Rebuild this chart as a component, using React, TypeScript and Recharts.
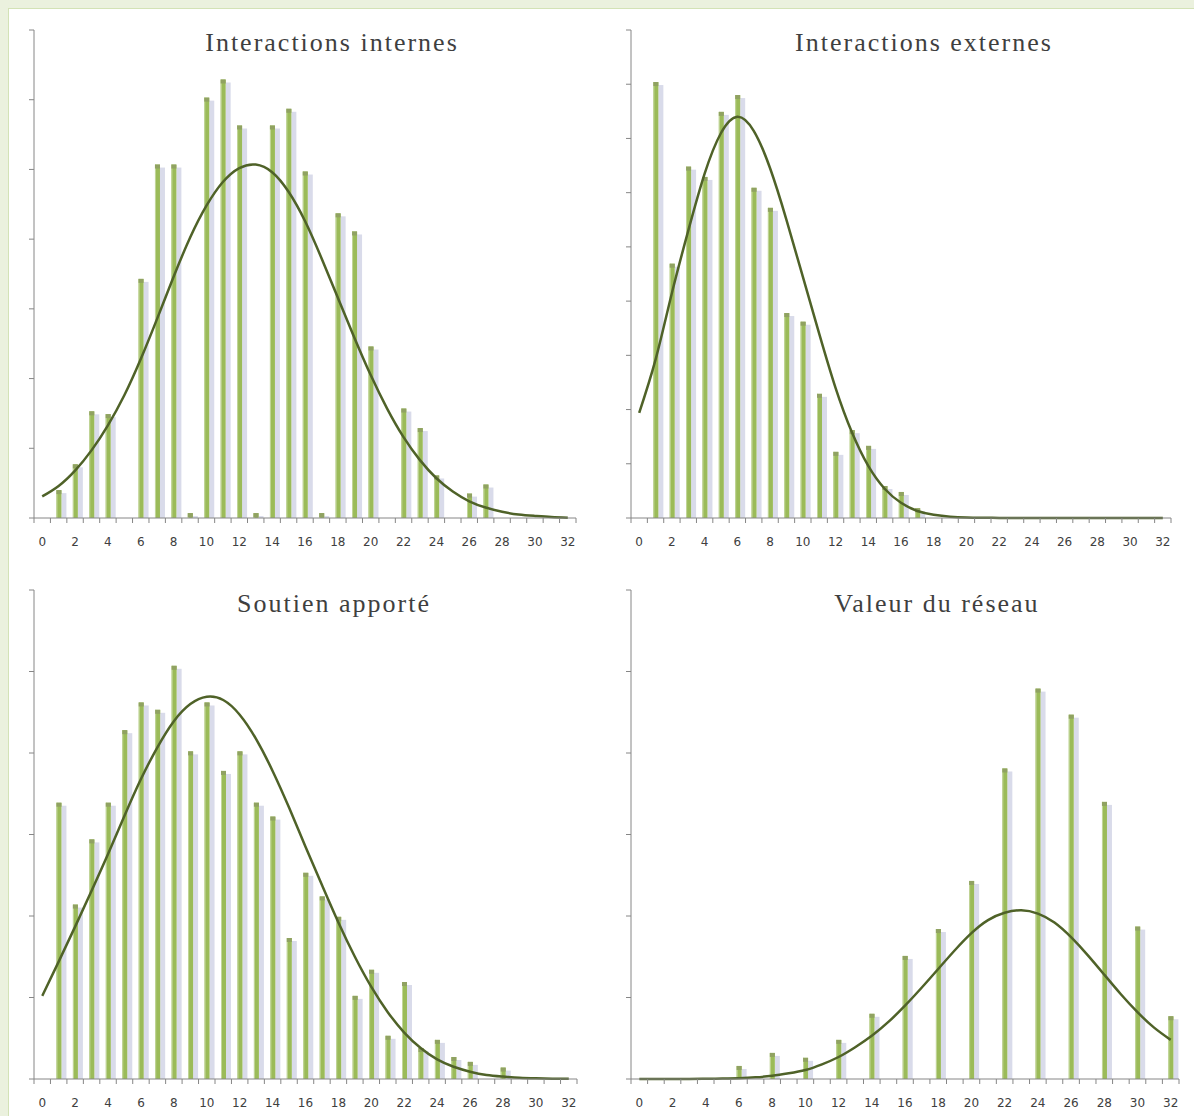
import React from 'react';
import { ComposedChart, Bar, Line, XAxis, YAxis } from 'recharts';

// x categories (score 0..32)
const categories = [0, 1, 2, 3, 4, 5, 6, 7, 8, 9, 10, 11, 12, 13, 14, 15, 16, 17, 18, 19, 20, 21, 22, 23, 24, 25, 26, 27, 28, 29, 30, 31, 32];

// Interactions internes
const internesBars = [0, 4, 7.7, 15.3, 14.9, 0, 34.3, 50.7, 50.7, 0.7, 60.3, 62.9, 56.3, 0.7, 56.3, 58.7, 49.7, 0.7, 43.7, 41.1, 24.6, 0, 15.7, 12.9, 6.1, 0, 3.5, 4.8, 0, 0, 0, 0, 0];
const internesCurve = [3.1, 4.6, 6.8, 9.7, 13.3, 17.6, 22.8, 28.6, 34.6, 40.2, 44.8, 48.2, 50.2, 50.7, 49.6, 46.8, 42.6, 37.3, 31.6, 25.9, 20.5, 15.7, 11.6, 8.3, 5.7, 3.8, 2.4, 1.5, 0.9, 0.5, 0.3, 0.15, 0.05];

// Interactions externes
const externesBars = [0, 80.4, 46.9, 64.8, 62.9, 74.9, 78, 60.9, 57.2, 37.8, 36.2, 22.9, 12.2, 16.2, 13.3, 5.9, 4.8, 1.8, 0, 0, 0, 0, 0, 0, 0, 0, 0, 0, 0, 0, 0, 0, 0];
const externesCurve = [19.4, 29.2, 41.5, 53, 63.5, 71, 74, 71.4, 64.5, 55, 44.5, 34, 24, 15.8, 9.6, 5.4, 2.8, 1.3, 0.6, 0.25, 0.1, 0.05, 0.02, 0.01, 0, 0, 0, 0, 0, 0, 0, 0, 0];

// Soutien apporté
const soutienBars = [0, 33.9, 21.4, 29.4, 33.9, 42.8, 46.2, 45.3, 50.7, 40.2, 46.2, 37.8, 40.2, 33.9, 32.2, 17.3, 25.3, 22.4, 19.9, 10.2, 13.4, 5.3, 11.9, 3.8, 4.8, 2.7, 2.1, 0, 1.4, 0, 0, 0, 0];
const soutienCurve = [10.2, 14.4, 18.7, 23.1, 27.6, 32.3, 36.8, 40.7, 43.9, 46, 46.9, 46.5, 44.7, 41.7, 37.8, 33.3, 28.5, 23.8, 19.2, 15, 11.3, 8.2, 5.7, 3.8, 2.4, 1.5, 0.9, 0.5, 0.3, 0.15, 0.08, 0.04, 0.02];

// Valeur du réseau
const valeurBars = [0, 0, 0, 0, 0, 0, 1.6, 0, 3.2, 0, 2.6, 0, 4.8, 0, 8, 0, 15.1, 0, 18.4, 0, 24.3, 0, 38.1, 0, 47.9, 0, 44.7, 0, 34, 0, 18.7, 0, 7.7];
const valeurCurve = [0, 0, 0, 0.01, 0.02, 0.05, 0.1, 0.2, 0.4, 0.7, 1.1, 1.8, 2.7, 3.9, 5.3, 7, 9, 11.2, 13.5, 15.8, 17.9, 19.5, 20.4, 20.7, 20.3, 19.2, 17.4, 15.2, 12.8, 10.4, 8.2, 6.3, 4.8];

const GREEN = '#9bbb59';
const LINE = '#4f6228';
const AXIS = '#868686';

const buildRows = (bars: number[], curve: number[]) =>
    categories.map((c, i) => ({ x: c, bar: bars[i], curve: curve[i] }));

const BarShape = (props: any) => {
    const { x, y, width, height } = props;
    if (!height || height <= 0) return null;
    return (
        <g>
            <rect x={x + width} y={y + 3} width={width} height={Math.max(0, height - 3)} fill="#d9dbea" />
            <rect x={x} y={y} width={width} height={height} fill={GREEN} />
            <rect x={x} y={y} width={1} height={height} fill="#c3d69b" />
            <rect x={x} y={y} width={width} height={Math.min(4, height)} fill="#90a262" />
        </g>
    );
};

const makeTick = (band: number, last: number) => (props: any) => {
    const { x, y, payload } = props;
    const v = payload.value;
    return (
        <g>
            <line x1={x - band / 2} x2={x - band / 2} y1={y} y2={y + 5} stroke={AXIS} />
            {v === last && <line x1={x + band / 2} x2={x + band / 2} y1={y} y2={y + 5} stroke={AXIS} />}
            {v % 2 === 0 && (
                <text x={x} y={y + 28} textAnchor="middle" fontSize={12} fontFamily="DejaVu Sans" fill="#404040">
                    {v}
                </text>
            )}
        </g>
    );
};

interface PanelProps {
    left: number;
    top: number;
    width: number;
    height: number;
    plotLeft: number;
    plotRight: number;
    plotTop: number;
    plotBottom: number;
    yMax: number;
    yTicks: number[];
    bars: number[];
    curve: number[];
}

const Panel: React.FC<PanelProps> = (p) => {
    const data = buildRows(p.bars, p.curve);
    const band = (p.plotRight - p.plotLeft) / categories.length;
    const xAxisHeight = 30;
    return (
        <div style={{ position: 'absolute', left: p.left, top: p.top }}>
            <ComposedChart
                width={p.width}
                height={p.height}
                data={data}
                margin={{
                    top: p.plotTop - p.top,
                    left: p.plotLeft - p.left - 10,
                    right: p.left + p.width - p.plotRight,
                    bottom: p.top + p.height - p.plotBottom - xAxisHeight
                }}
            >
                <XAxis
                    dataKey="x"
                    type="category"
                    interval={0}
                    height={xAxisHeight}
                    tickSize={0}
                    tickMargin={0}
                    tickLine={false}
                    axisLine={{ stroke: AXIS }}
                    tick={makeTick(band, 32)}
                />
                <YAxis
                    type="number"
                    width={10}
                    domain={[0, p.yMax]}
                    ticks={p.yTicks}
                    tickFormatter={() => ''}
                    tickSize={5}
                    axisLine={{ stroke: AXIS }}
                    tickLine={{ stroke: AXIS }}
                />
                <Bar dataKey="bar" barSize={5} shape={BarShape} isAnimationActive={false} />
                <Line type="natural" dataKey="curve" stroke={LINE} strokeWidth={2.5} dot={false} isAnimationActive={false} />
            </ComposedChart>
        </div>
    );
};

const TITLES = [
    { text: 'Interactions internes', x: 332, y: 51 },
    { text: 'Interactions externes', x: 924, y: 51 },
    { text: 'Soutien apporté', x: 334, y: 612 },
    { text: 'Valeur du réseau', x: 937, y: 612 }
];

export default function App() {
    return (
        <div style={{ position: 'absolute', left: 0, top: 0, width: 1194, height: 1116, background: '#ebf1de', overflow: 'hidden' }}>
            <div
                style={{
                    position: 'absolute',
                    left: 8,
                    top: 8,
                    right: 0,
                    bottom: 0,
                    background: '#ffffff',
                    borderLeft: '1px solid #d3e2b6',
                    borderTop: '1px solid #d3e2b6'
                }}
            />
            <Panel left={0} top={0} width={600} height={570} plotLeft={34} plotRight={576} plotTop={30} plotBottom={518}
                yMax={70} yTicks={[0, 10, 20, 30, 40, 50, 60, 70]} bars={internesBars} curve={internesCurve} />
            <Panel left={597} top={0} width={597} height={570} plotLeft={631} plotRight={1171} plotTop={30} plotBottom={518}
                yMax={90} yTicks={[0, 10, 20, 30, 40, 50, 60, 70, 80, 90]} bars={externesBars} curve={externesCurve} />
            <Panel left={0} top={560} width={600} height={556} plotLeft={34} plotRight={577} plotTop={590} plotBottom={1079}
                yMax={60} yTicks={[0, 10, 20, 30, 40, 50, 60]} bars={soutienBars} curve={soutienCurve} />
            <Panel left={597} top={560} width={597} height={556} plotLeft={631} plotRight={1179} plotTop={590} plotBottom={1079}
                yMax={60} yTicks={[0, 10, 20, 30, 40, 50, 60]} bars={valeurBars} curve={valeurCurve} />
            <svg width={1194} height={1116} style={{ position: 'absolute', left: 0, top: 0, pointerEvents: 'none' }}>
                {TITLES.map((t) => (
                    <text key={t.text} x={t.x} y={t.y} textAnchor="middle" fontFamily="Liberation Serif" fontSize={26}
                        letterSpacing={2} fill="#3f3f3f">
                        {t.text}
                    </text>
                ))}
            </svg>
        </div>
    );
}
